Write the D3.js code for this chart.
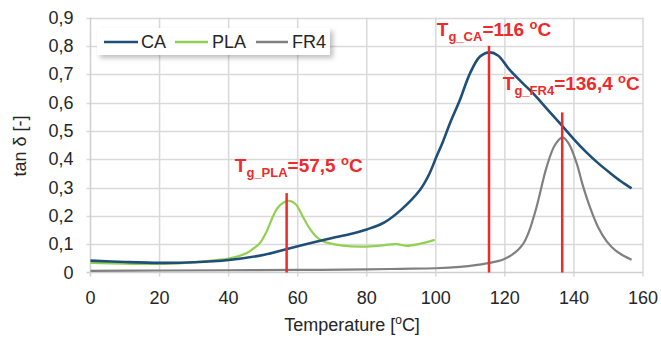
<!DOCTYPE html>
<html><head><meta charset="utf-8">
<script src="https://cdn.jsdelivr.net/npm/d3@7"></script>
<style>body{margin:0;background:#fff}svg{display:block}</style>
</head><body>
<svg id="c" width="661" height="342"></svg>
<script>
// ---- data ----
const seriesNames = ["CA", "PLA", "FR4"];
const caT = [0,10,20,30,40,50,55,60,65,70,75,80,85,90,95.4,98,100.2,102,104.1,107,109.9,112.8,115.6,118,121.4,125,128.2,132,135.9,140,143.7,147,150.4,153.5,156.7];
const caV = [0.042,0.037,0.034,0.036,0.044,0.062,0.077,0.093,0.108,0.122,0.135,0.152,0.176,0.222,0.291,0.345,0.409,0.46,0.527,0.61,0.703,0.762,0.777,0.766,0.715,0.67,0.632,0.58,0.527,0.47,0.423,0.386,0.352,0.323,0.297];
const plaT = [0,10,20,25.8,30,35,40.3,45.1,47,49,51,52.8,54,56,57.7,59.5,61.5,63.5,65.4,67.3,69.3,73,78,83,88.6,91.5,95,99.7];
const plaV = [0.034,0.031,0.030,0.032,0.036,0.042,0.05,0.068,0.083,0.103,0.145,0.197,0.225,0.248,0.253,0.24,0.197,0.155,0.126,0.11,0.103,0.095,0.091,0.094,0.1,0.094,0.1,0.115];
const fr4T = [0,20,40,60,80,90,100,107,112,116,119.5,122,124,125.5,127,129.2,132.1,134.5,136.7,138.5,140.8,142.5,144.6,147,149.5,152,154.5,156.7];
const fr4V = [0.006,0.007,0.008,0.009,0.011,0.013,0.015,0.02,0.027,0.035,0.046,0.062,0.082,0.105,0.145,0.232,0.373,0.45,0.477,0.455,0.385,0.31,0.232,0.16,0.11,0.078,0.058,0.045];
const xTicks = [0,20,40,60,80,100,120,140,160];
const yTicks = [0,0.1,0.2,0.3,0.4,0.5,0.6,0.7,0.8,0.9];
const yTickLabels = ["0","0,1","0,2","0,3","0,4","0,5","0,6","0,7","0,8","0,9"];
const tgTemps = [56.8, 115.4, 136.6];
const tgTops = [0.28, 0.80, 0.565];
const tgSub = ["g_PLA", "g_CA", "g_FR4"];
const tgValueText = ["=57,5 ", "=116 ", "=136,4 "];
// ---- layout ----
const colors = {CA:"#1f4e79", PLA:"#92d050", FR4:"#808080"};
const red = "#ee2a2a";
const L = 90.5, R = 643, T = 17.5, B = 272.5;
const svg = d3.select("#c");
const x = d3.scaleLinear().domain([0,160]).range([L,R]);
const y = d3.scaleLinear().domain([0,0.9]).range([B,T]);
const font = "'Liberation Sans', Arial, sans-serif";

const defs = svg.append("defs");
const f = defs.append("filter").attr("id","sh").attr("x","-10%").attr("y","-30%").attr("width","130%").attr("height","180%");
f.append("feDropShadow").attr("dx",3).attr("dy",3).attr("stdDeviation",2.5).attr("flood-color","#000").attr("flood-opacity",0.25);

// grid
svg.append("g").selectAll("line").data(yTicks.slice(1)).join("line")
  .attr("x1",L-4).attr("x2",R).attr("y1",d=>Math.round(y(d))+0.5).attr("y2",d=>Math.round(y(d))+0.5)
  .attr("stroke","#d9d9d9").attr("stroke-width",1.5);
svg.append("g").selectAll("line").data(xTicks.slice(1)).join("line")
  .attr("x1",d=>x(d)).attr("x2",d=>x(d)).attr("y1",T).attr("y2",B+4)
  .attr("stroke","#d9d9d9").attr("stroke-width",1.5);
// axes lines
svg.append("line").attr("x1",L).attr("x2",L).attr("y1",T).attr("y2",B+4).attr("stroke","#d0d0d0").attr("stroke-width",1.5);
svg.append("line").attr("x1",L-4).attr("x2",R).attr("y1",B).attr("y2",B).attr("stroke","#d0d0d0").attr("stroke-width",1.5);

// tick labels
svg.append("g").selectAll("text").data(yTicks).join("text")
  .attr("x",L-17).attr("y",d=>y(d)).attr("dy","0.35em").attr("text-anchor","end")
  .attr("font-family",font).attr("font-size",18).attr("fill","#262626")
  .text((d,i)=>yTickLabels[i]);
svg.append("g").selectAll("text").data(xTicks).join("text")
  .attr("x",d=>x(d)).attr("y",B+25).attr("dy","0.35em").attr("text-anchor","middle")
  .attr("font-family",font).attr("font-size",18).attr("fill","#262626")
  .text(d=>d);

// axis titles
const xt = svg.append("text").attr("x",352).attr("y",331).attr("text-anchor","middle")
  .attr("font-family",font).attr("font-size",18).attr("fill","#262626");
xt.append("tspan").text("Temperature [");
xt.append("tspan").attr("font-size",12).attr("dy",-7).text("o");
xt.append("tspan").attr("dy",7).text("C]");
svg.append("text").attr("transform","translate(20,146) rotate(-90)").attr("text-anchor","middle")
  .attr("dy","0.35em")
  .attr("font-family",font).attr("font-size",18).attr("fill","#262626").text("tan δ [-]");

// series
const line = d3.line().x(d=>x(d[0])).y(d=>y(d[1])).curve(d3.curveCatmullRom.alpha(0.5));
const series = [
  {name:"FR4", t:fr4T, v:fr4V, w:2.2},
  {name:"PLA", t:plaT, v:plaV, w:2.2},
  {name:"CA", t:caT, v:caV, w:2.6}
];
svg.append("g").selectAll("path").data(series).join("path")
  .attr("d",s=>line(s.t.map((t,i)=>[t,s.v[i]])))
  .attr("fill","none").attr("stroke",s=>colors[s.name]).attr("stroke-width",s=>s.w)
  .attr("stroke-linejoin","round");

// Tg lines
svg.append("g").selectAll("line").data(tgTemps).join("line")
  .attr("x1",d=>x(d)).attr("x2",d=>x(d)).attr("y1",(d,i)=>y(tgTops[i])).attr("y2",B)
  .attr("stroke",red).attr("stroke-width",2.5);

// Tg labels
const labelPos = [[41.8,0.355],[100.3,0.833],[119.4,0.645]];
labelPos.forEach((p,i)=>{
  const t = svg.append("text").attr("x",x(p[0])).attr("y",y(p[1]))
    .attr("font-family",font).attr("font-weight","bold").attr("font-size",19).attr("fill",red);
  t.append("tspan").text("T");
  t.append("tspan").attr("font-size",13).attr("dy",5).text(tgSub[i]);
  t.append("tspan").attr("dy",-5).text(tgValueText[i]);
  t.append("tspan").attr("font-size",13).attr("dy",-7).text("o");
  t.append("tspan").attr("dy",7).text("C");
});

// legend
const lg = svg.append("g");
lg.append("rect").attr("x",97).attr("y",28).attr("width",233).attr("height",27).attr("fill","#fff").attr("filter","url(#sh)");
const legX = [[104,138,141],[175,208,212],[256,288,292]];
seriesNames.forEach((n,i)=>{
  lg.append("line").attr("x1",legX[i][0]).attr("x2",legX[i][1]).attr("y1",42).attr("y2",42)
    .attr("stroke",colors[n]).attr("stroke-width",2.5);
  lg.append("text").attr("x",legX[i][2]).attr("y",42).attr("dy","0.35em")
    .attr("font-family",font).attr("font-size",18).attr("fill","#262626").text(n);
});
</script>
</body></html>
